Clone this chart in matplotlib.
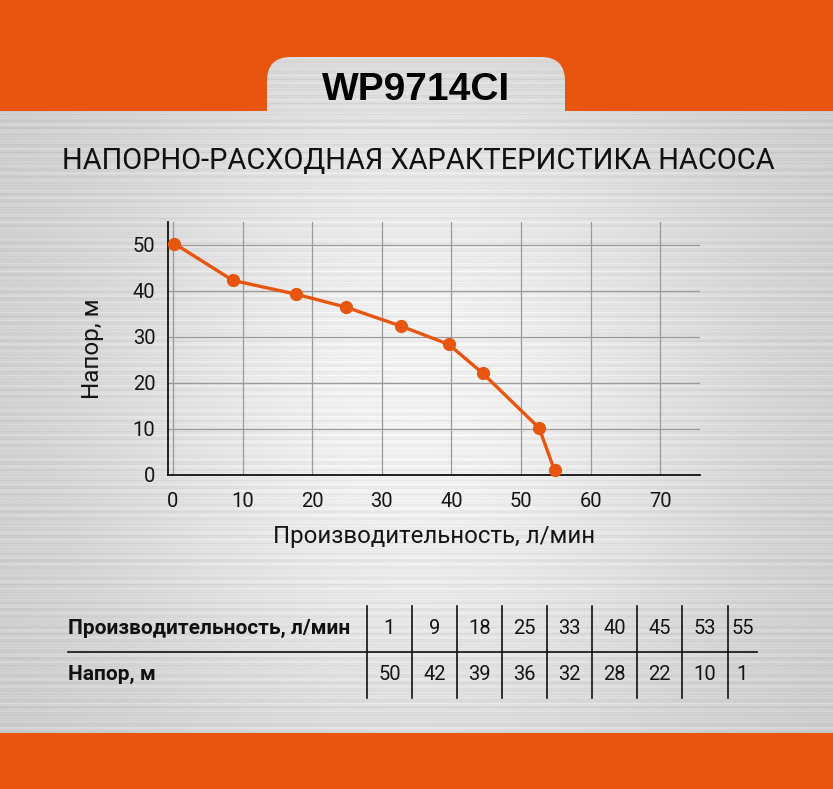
import numpy as np
import matplotlib
matplotlib.use("Agg")
import matplotlib.pyplot as plt
from matplotlib.patches import FancyBboxPatch, Rectangle
import warnings
warnings.filterwarnings("ignore")

# ---- data ----
model = "WP9714CI"
subtitle = "НАПОРНО-РАСХОДНАЯ ХАРАКТЕРИСТИКА НАСОСА"
x_label = "Производительность, л/мин"
y_label = "Напор, м"
# points as drawn on the curve
curve_flow = [0.2, 8.6, 17.7, 24.8, 32.7, 39.6, 44.5, 52.6, 54.8]
curve_head = [50.3, 42.3, 39.3, 36.5, 32.4, 28.4, 22.1, 10.2, 1.0]
# table values
table_flow = ["1", "9", "18", "25", "33", "40", "45", "53", "55"]
table_head = ["50", "42", "39", "36", "32", "28", "22", "10", "1"]
x_ticks = [0, 10, 20, 30, 40, 50, 60, 70]
y_ticks = [0, 10, 20, 30, 40, 50]

ORANGE = "#E8550F"
W, H = 833, 789
ROBOTO = ["Roboto", "DejaVu Sans"]
ARIAL = ["Liberation Sans", "DejaVu Sans"]

fig = plt.figure(figsize=(W / 100, H / 100), dpi=100)

# background axes in pixel coords
bg = fig.add_axes([0, 0, 1, 1])
bg.set_xlim(0, W)
bg.set_ylim(H, 0)
bg.axis("off")

# brushed-metal like background (deterministic)
yy = np.arange(H)[:, None]
xx = np.arange(W)[None, :]
base = 0.79 + 0.16 * np.exp(-((xx - W / 2) / 330.0) ** 2 - ((yy - 400) / 380.0) ** 2)
stripes = 0.03 * np.sin(yy * 0.9) * np.sin(yy * 0.13 + 1.0) + 0.015 * np.sin(yy * 2.3)
img = np.clip(base + stripes, 0, 1)
rgb = np.dstack([img, img, img])
bg.imshow(rgb, extent=(0, W, H, 0), aspect="auto", zorder=0)

# orange bands
bg.add_patch(Rectangle((0, 0), W, 111, color=ORANGE, zorder=1, lw=0))
bg.add_patch(Rectangle((0, 733), W, H - 733, color=ORANGE, zorder=1, lw=0))
# tab cut out of the orange band (same metal texture)
tab = FancyBboxPatch((267, 57), 298, 80, boxstyle="round,pad=0,rounding_size=24",
                     fc="none", ec="none", zorder=2)
bg.add_patch(tab)
tab_img = bg.imshow(rgb, extent=(0, W, H, 0), aspect="auto", zorder=2)
tab_img.set_clip_path(tab)

bg.text(416, 90, model, ha="center", va="center", fontsize=28, fontweight="bold",
        family=ARIAL, color="#000000", zorder=3)
bg.text(418, 161, subtitle, ha="center", va="center", fontsize=20.9,
        family=ROBOTO, color="#111111", zorder=3)

# ---- table ----
col_lines = [367, 412, 457, 502, 547, 592, 637, 682, 728]
col_right = 757
bg.plot([68, col_right], [652, 652], color="#111111", lw=1.2, zorder=3)
for xl in col_lines:
    bg.plot([xl, xl], [606, 698], color="#111111", lw=1.2, zorder=3)
bg.text(68, 628, x_label, ha="left", va="center", fontsize=15, fontweight="bold",
        family=ROBOTO, color="#111111", zorder=3)
bg.text(68, 674, y_label, ha="left", va="center", fontsize=15, fontweight="bold",
        family=ROBOTO, color="#111111", zorder=3)
edges = col_lines + [col_right]
for i in range(len(table_flow)):
    cx = (edges[i] + edges[i + 1]) / 2
    bg.text(cx, 628, table_flow[i], ha="center", va="center", fontsize=14.5,
            family=ROBOTO, color="#151515", zorder=3)
    bg.text(cx, 674, table_head[i], ha="center", va="center", fontsize=14.5,
            family=ROBOTO, color="#151515", zorder=3)

# ---- chart ----
ax = fig.add_axes([168 / W, 1 - 475 / H, (700 - 168) / W, (475 - 222) / H])
ax.patch.set_alpha(0)
ax.set_xlim(-0.72, 75.7)
ax.set_ylim(0, 55)
ax.set_xticks(x_ticks)
ax.set_yticks(y_ticks)
ax.grid(True, color="#9a9a9a", lw=0.9)
ax.set_axisbelow(True)
for s in ["top", "right"]:
    ax.spines[s].set_visible(False)
for s in ["left", "bottom"]:
    ax.spines[s].set_color("#111111")
    ax.spines[s].set_linewidth(1.3)
ax.tick_params(axis="y", length=0, pad=9, labelsize=14.5, colors="#151515")
ax.tick_params(axis="x", length=0, pad=12, labelsize=14.5, colors="#151515")
for lab in ax.get_xticklabels() + ax.get_yticklabels():
    lab.set_family(ROBOTO)
ax.plot(curve_flow, curve_head, color=ORANGE, lw=2.4, marker="o", ms=8.5,
        solid_capstyle="round", zorder=3, clip_on=False)
ax.set_xlabel(x_label, fontsize=17.3, family=ROBOTO, color="#151515", labelpad=10)
ax.set_ylabel(y_label, fontsize=17.5, family=ROBOTO, color="#151515", labelpad=21)

fig.savefig("out.png", dpi=100)
